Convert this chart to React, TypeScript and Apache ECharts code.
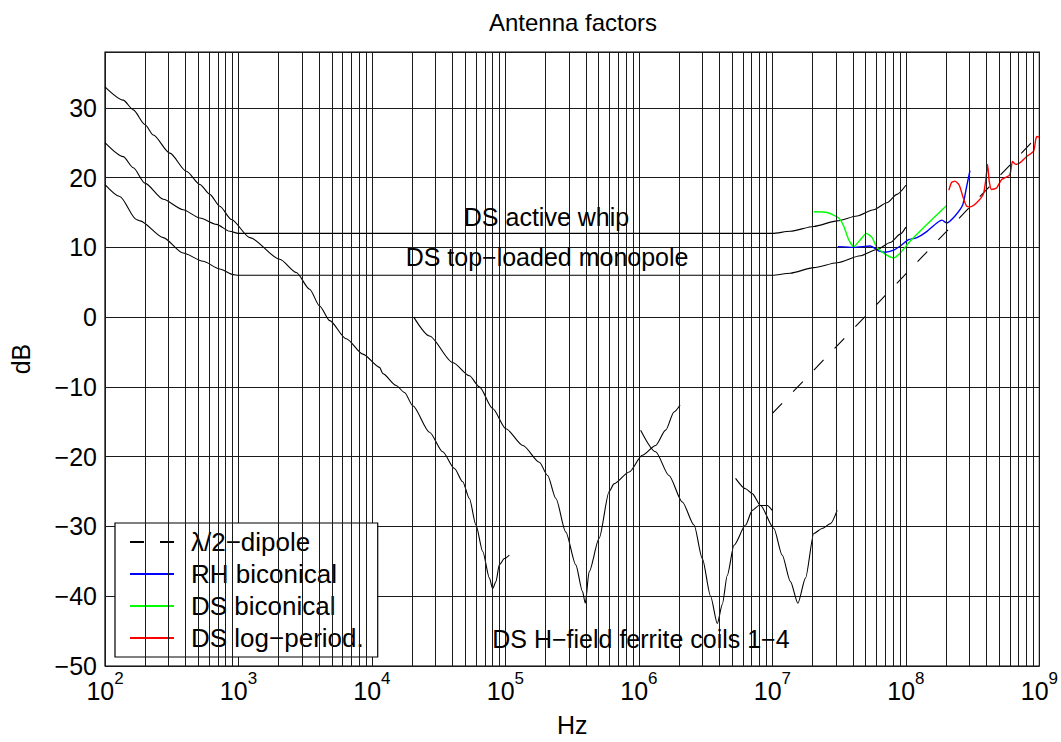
import React, { useEffect, useRef } from 'react';
import * as echarts from 'echarts';

// ---- data (frequency in Hz, antenna factor in dB) ----
const coil1Hz = [100, 137, 163, 199, 230, 306, 407, 514, 610, 724, 885, 1216, 2037, 2710, 3412, 4055, 4819, 6412, 8551, 11400, 12080, 15170, 17540, 20230, 26980, 33880, 41500, 47860, 53700, 60120, 67610, 75860, 80170, 84920, 89950, 98170, 106900];
const coil1Db = [33.0, 31.1, 29.7, 27.6, 26.1, 23.5, 20.9, 19.0, 17.6, 15.9, 14.0, 11.4, 8.3, 6.4, 4.0, 1.6, -0.5, -3.1, -5.3, -7.2, -8.1, -9.8, -10.8, -12.7, -16.5, -19.3, -21.7, -23.6, -26.0, -29.8, -33.6, -37.4, -38.9, -37.9, -35.5, -34.6, -34.1];

const coil2Hz = [20560, 26980, 40270, 53700, 63830, 80170, 100900, 135200, 179500, 207000, 238800, 283100, 336500, 377600, 396300, 423600, 503500, 598400, 650000, 845000, 1060000, 1334000, 1585000, 1832000, 2032000];
const coil2Db = [0.0, -2.7, -6.5, -8.4, -10.0, -13.1, -16.0, -18.4, -20.8, -22.7, -26.0, -30.8, -35.5, -39.3, -41.0, -36.5, -31.7, -25.0, -23.9, -22.2, -19.8, -18.4, -16.2, -13.6, -12.6];

const coil3Hz = [1030000, 1334000, 1679000, 2113000, 2588000, 2985000, 3443000, 3864000, 4210000, 4592000, 5152000, 6295000, 7063000, 7925000, 9141000, 9958000];
const coil3Db = [-16.2, -19.3, -22.7, -26.5, -29.8, -34.6, -40.0, -43.9, -41.2, -37.0, -32.7, -29.8, -27.7, -27.0, -27.0, -27.7];

const coil4Hz = [5297000, 6295000, 7063000, 8147000, 10260000, 11830000, 13650000, 15520000, 17700000, 20420000, 23550000, 27230000, 30550000];
const coil4Db = [-23.1, -24.6, -25.3, -27.0, -30.3, -34.1, -37.9, -41.0, -37.4, -31.0, -30.3, -29.6, -27.7];

const whipHz = [100, 137, 163, 199, 273, 385, 514, 684, 861, 1000, 10000000, 13600000, 20400000, 30600000, 43100000, 57300000, 72100000, 85700000, 100000000];
const whipDb = [25.0, 23.0, 21.4, 19.2, 16.9, 15.4, 14.2, 13.3, 12.3, 12.0, 12.0, 12.3, 13.0, 13.8, 14.5, 15.4, 16.4, 17.6, 18.9];

const monoHz = [100, 129, 172, 183, 273, 385, 543, 724, 912, 1000, 10000000, 13600000, 20400000, 30600000, 45600000, 60800000, 76400000, 90800000, 100000000];
const monoDb = [19.0, 17.3, 14.0, 13.8, 11.4, 9.2, 8.0, 6.9, 6.1, 6.0, 6.0, 6.3, 7.1, 7.8, 8.8, 9.7, 10.7, 11.9, 12.9];

const dipoleHz = [10000000, 100000000, 1000000000];
const dipoleDb = [-13.8, 6.2, 26.2];

const rhBicHz = [30900000, 40700000, 54100000, 62500000, 70000000, 80900000, 90800000, 104700000, 121000000, 144000000, 170600000, 186200000, 202300000, 233300000, 266700000, 285800000, 302000000];
const rhBicDb = [10.1, 10.0, 10.2, 9.5, 9.3, 9.6, 10.2, 11.1, 11.4, 12.3, 13.5, 13.9, 13.5, 14.5, 16.1, 18.8, 21.0];

const dsBicHz = [20400000, 25700000, 31400000, 34300000, 37300000, 40700000, 45600000, 50600000, 55800000, 60800000, 70300000, 80900000, 90800000, 107900000, 144000000, 202000000];
const dsBicDb = [15.1, 15.0, 14.2, 13.0, 11.1, 10.1, 11.1, 12.0, 11.4, 10.0, 9.0, 8.5, 9.2, 10.9, 13.3, 16.0];

const logPerHz = [210000000, 220000000, 233000000, 251000000, 269000000, 285000000, 302000000, 339000000, 380000000, 397000000, 409000000, 421000000, 438000000, 478000000, 520000000, 600000000, 629000000, 666000000, 713000000, 800000000, 906000000, 938000000, 959000000, 1000000000];
const logPerDb = [18.2, 19.3, 19.5, 18.9, 17.1, 15.9, 15.8, 16.4, 17.6, 19.7, 21.9, 19.5, 18.3, 18.5, 19.7, 20.4, 22.3, 21.9, 22.1, 23.0, 23.8, 25.4, 25.9, 25.8];

const legendNames = ['λ/2−dipole', 'RH biconical', 'DS biconical', 'DS log−period.'];

const noteTexts = ['DS active whip', 'DS top−loaded monopole', 'DS H−field ferrite coils 1−4'];
const noteHz = [203000, 205000, 1035000];
const noteDb = [14.4, 8.6, -46.1];

const minorMultipliers = [2, 3, 4, 5, 6, 7, 8, 9];
const decadeStarts = [1e2, 1e3, 1e4, 1e5, 1e6, 1e7, 1e8];

const FONT = '"Liberation Sans", Arial, Helvetica, sans-serif';
const FS = 25;
const GRID_COLOR = '#1a1a1a';

const zip = (xs: number[], ys: number[]) => xs.map((x, i) => [x, ys[i]]);

export default function App() {
  const ref = useRef<HTMLDivElement>(null);

  useEffect(() => {
    if (!ref.current) return;
    const chart = echarts.init(ref.current, null, { renderer: 'svg' });

    const minorLines: any[] = [];
    decadeStarts.forEach((d) => minorMultipliers.forEach((m) => minorLines.push({ xAxis: d * m })));

    const blackLine = (name: string, xs: number[], ys: number[], extra: any = {}) => ({
      name,
      type: 'line',
      data: zip(xs, ys),
      showSymbol: false,
      symbol: 'none',
      smooth: 0.25,
      smoothMonotone: 'x',
      lineStyle: { color: '#000', width: 1.1 },
      itemStyle: { color: '#000' },
      silent: true,
      z: 3,
      ...extra,
    });

    const colorLine = (name: string, xs: number[], ys: number[], color: string) => ({
      name,
      type: 'line',
      data: zip(xs, ys),
      showSymbol: false,
      symbol: 'none',
      smooth: 0.2,
      lineStyle: { color, width: 1.4 },
      itemStyle: { color },
      silent: true,
      z: 4,
    });

    const option: any = {
      animation: false,
      backgroundColor: '#fff',
      textStyle: { fontFamily: FONT, color: '#000' },
      title: {
        text: 'Antenna factors',
        left: 568,
        top: 5,
        textAlign: 'center',
        textStyle: { fontFamily: FONT, fontSize: 24, fontWeight: 'normal', color: '#000' },
      },
      grid: {
        left: 101.7,
        right: 21.3,
        top: 52,
        bottom: 73.7,
        show: true,
        borderColor: '#000',
        borderWidth: 1.2,
        backgroundColor: 'transparent',
        containLabel: false,
      },
      legend: {
        data: legendNames,
        orient: 'vertical',
        left: 115,
        top: 523,
        padding: [6, 14, 6, 14],
        itemGap: 6,
        itemWidth: 44,
        itemHeight: 14,
        backgroundColor: '#fff',
        borderColor: '#000',
        borderWidth: 1.2,
        borderRadius: 0,
        selectedMode: false,
        itemStyle: { opacity: 0, borderWidth: 0 },
        textStyle: { fontFamily: FONT, fontSize: 26, color: '#000', padding: [0, 0, 0, 12] },
      },
      xAxis: {
        type: 'log',
        logBase: 10,
        min: 100,
        max: 1e9,
        axisLine: { show: false },
        axisTick: { show: false },
        splitLine: { show: true, lineStyle: { color: GRID_COLOR, width: 1 } },
        axisLabel: {
          show: true,
          showMinLabel: true,
          showMaxLabel: true,
          margin: 12,
          color: '#000',
          fontFamily: FONT,
          fontSize: FS,
          formatter: (v: number) => `{b|10}{s|${Math.round(Math.log10(v))}}`,
          rich: {
            b: { fontFamily: FONT, fontSize: FS, color: '#000', lineHeight: 25, verticalAlign: 'bottom' },
            s: { fontFamily: FONT, fontSize: 17, color: '#000', lineHeight: 17, verticalAlign: 'bottom', padding: [0, 0, 16, 0] },
          },
        },
        name: 'Hz',
        nameLocation: 'middle',
        nameGap: 46,
        nameTextStyle: { fontFamily: FONT, fontSize: FS, color: '#000' },
      },
      yAxis: {
        type: 'value',
        min: -50,
        max: 38,
        interval: 10,
        axisLine: { show: false },
        axisTick: { show: false },
        splitLine: { show: true, lineStyle: { color: GRID_COLOR, width: 1 } },
        axisLabel: {
          margin: 8,
          color: '#000',
          fontFamily: FONT,
          fontSize: FS,
          showMaxLabel: false,
          formatter: (v: number) => (v > 35 ? '' : String(v).replace('-', '−')),
        },
        name: 'dB',
        nameLocation: 'middle',
        nameGap: 72,
        nameRotate: 90,
        nameTextStyle: { fontFamily: FONT, fontSize: FS, color: '#000' },
      },
      series: [
        blackLine('coil1', coil1Hz, coil1Db, {
          z: 2,
          markLine: {
            silent: true,
            symbol: ['none', 'none'],
            label: { show: false },
            emphasis: { disabled: true },
            lineStyle: { color: GRID_COLOR, width: 1, type: 'solid' },
            data: minorLines,
            animation: false,
          },
        }),
        blackLine('coil2', coil2Hz, coil2Db),
        blackLine('coil3', coil3Hz, coil3Db),
        blackLine('coil4', coil4Hz, coil4Db),
        blackLine('whip', whipHz, whipDb, {
          markPoint: {
            symbol: 'circle',
            symbolSize: 0,
            silent: true,
            animation: false,
            label: {
              show: true,
              position: 'inside',
              formatter: '{b}',
              fontFamily: FONT,
              fontSize: FS,
              color: '#000',
            },
            data: noteTexts.map((t, i) => ({ name: t, coord: [noteHz[i], noteDb[i]] })),
          },
        }),
        blackLine('monopole', monoHz, monoDb),
        {
          name: legendNames[0],
          type: 'line',
          data: zip(dipoleHz, dipoleDb),
          showSymbol: false,
          symbol: 'none',
          lineStyle: { color: '#000', width: 1.1, type: [14, 16] },
          itemStyle: { color: '#000' },
          silent: true,
          z: 3,
        },
        colorLine(legendNames[1], rhBicHz, rhBicDb, '#0000ff'),
        colorLine(legendNames[2], dsBicHz, dsBicDb, '#00ff00'),
        colorLine(legendNames[3], logPerHz, logPerDb, '#ff0000'),
      ],
    };

    chart.setOption(option);
    return () => chart.dispose();
  }, []);

  return (
    <div
      ref={ref}
      style={{ position: 'fixed', left: 0, top: 0, width: 1061, height: 742, background: '#fff' }}
    />
  );
}
